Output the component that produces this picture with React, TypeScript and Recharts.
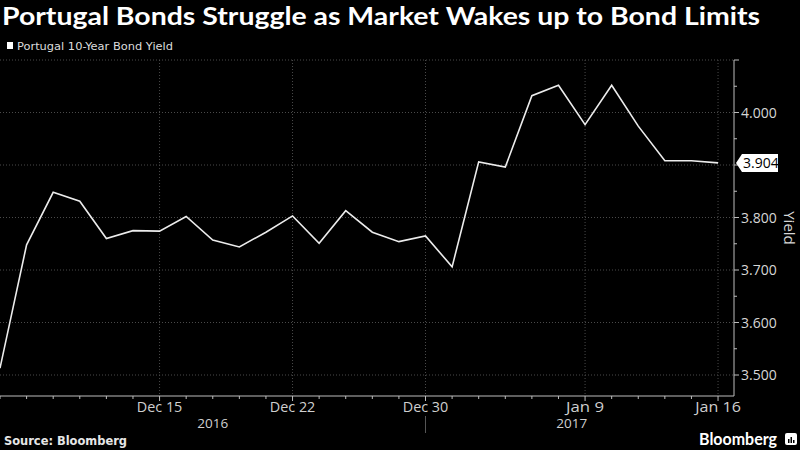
import { CartesianGrid, Line, LineChart, XAxis, YAxis } from 'recharts'

// business days, Dec 7 2016 .. Jan 16 2017
const dates = ['Dec 7', 'Dec 8', 'Dec 9', 'Dec 12', 'Dec 13', 'Dec 14', 'Dec 15', 'Dec 16', 'Dec 19', 'Dec 20', 'Dec 21', 'Dec 22', 'Dec 23', 'Dec 27', 'Dec 28', 'Dec 29', 'Dec 30', 'Jan 2', 'Jan 3', 'Jan 4', 'Jan 5', 'Jan 6', 'Jan 9', 'Jan 10', 'Jan 11', 'Jan 12', 'Jan 13', 'Jan 16']
const yields = [3.513, 3.748, 3.848, 3.831, 3.76, 3.775, 3.774, 3.802, 3.757, 3.744, 3.772, 3.803, 3.751, 3.813, 3.772, 3.754, 3.765, 3.706, 3.906, 3.896, 4.032, 4.052, 3.977, 4.052, 3.974, 3.908, 3.908, 3.904]
const dateLabels = ['Dec 15', 'Dec 22', 'Dec 30', 'Jan 9', 'Jan 16']
const years = ['2016', '2017']
const yearBounds = ['Dec 7', 'Dec 30', 'Jan 16']
const yMajor = [3.5, 3.6, 3.7, 3.8, 3.9, 4.0, 4.1]
const yMinor = [3.55, 3.65, 3.75, 3.85, 3.95, 4.05]
const yLabels = [3.5, 3.6, 3.7, 3.8, 4.0]

const data = dates.map((date, i) => ({ i, date, value: yields[i] }))
const last = yields[yields.length - 1]
const yearCenters = years.map((_, k) => (dates.indexOf(yearBounds[k]) + dates.indexOf(yearBounds[k + 1])) / 2)
const xDomain = [0, dates.length - 0.4]

const headFont = "Lato, 'Open Sans', sans-serif"
const textFont = "'DejaVu Sans', Verdana, sans-serif"
const axisFont = "'Open Sans', 'Noto Sans', sans-serif"
const axisColor = '#bdbdbd'

function XTick({ x, y, payload }: any) {
  const d = dates[payload.value]
  const labelled = dateLabels.includes(d)
  return (
    <g>
      <line x1={x} x2={x} y1={y} y2={y + (labelled ? 5 : 3)} stroke={axisColor} />
      {labelled ? <text x={x} y={y + 16} textAnchor="middle" fill="#cfcfcf" fontSize={14} fontFamily={axisFont} textLength={d.length * 7.6} lengthAdjust="spacingAndGlyphs">{d}</text> : null}
      {d === yearBounds[1] ? <line x1={x} x2={x} y1={y + 20} y2={y + 37} stroke="#555" /> : null}
    </g>
  )
}

function YearTick({ x, y, payload }: any) {
  const k = yearCenters.indexOf(payload.value)
  return <text x={x} y={y + 16} textAnchor="middle" fill="#cfcfcf" fontSize={13.5} fontFamily={axisFont} textLength={31} lengthAdjust="spacingAndGlyphs">{years[k]}</text>
}

function YTick({ x, y, payload }: any) {
  const v = payload.value
  if (v === last) {
    return (
      <g>
        <polygon points={`${x + 2},${y} ${x + 8},${y - 9} ${x + 44},${y - 9} ${x + 44},${y + 9} ${x + 8},${y + 9}`} fill="#fff" />
        <text x={x + 9} y={y} dy="0.36em" fill="#000" fontSize={14} fontFamily={axisFont}>{v.toFixed(3)}</text>
      </g>
    )
  }
  const major = yMajor.some((m) => Math.abs(m - v) < 1e-6)
  const labelled = yLabels.some((m) => Math.abs(m - v) < 1e-6)
  return (
    <g>
      <line x1={x} x2={x + (major ? 5 : 3)} y1={y} y2={y} stroke={axisColor} />
      {labelled ? <text x={x + 7} y={y} dy="0.36em" fill="#d6d6d6" fontSize={14} fontFamily={axisFont}>{v.toFixed(3)}</text> : null}
    </g>
  )
}

export default function App() {
  return (
    <div style={{ position: 'relative', width: 800, height: 450, background: '#000', overflow: 'hidden' }}>
      <style>{'body{margin:0;background:#000}'}</style>
      <LineChart width={800} height={450} data={data} margin={{ top: 60, right: 0, bottom: 20, left: 0 }}>
        <CartesianGrid stroke="#4a4a4a" strokeDasharray="1 2" horizontalValues={yMajor} verticalValues={dateLabels.map((d) => dates.indexOf(d))} />
        <XAxis dataKey="i" type="number" domain={xDomain} allowDataOverflow ticks={dates.map((_, i) => i)} interval={0} tickSize={0} tickMargin={0} tickLine={false} axisLine={{ stroke: axisColor }} height={16} tick={<XTick />} />
        <XAxis xAxisId="yr" dataKey="i" type="number" domain={xDomain} allowDataOverflow ticks={yearCenters} interval={0} tickSize={0} tickMargin={0} tickLine={false} axisLine={false} height={18} tick={<YearTick />} />
        <YAxis orientation="right" type="number" domain={[3.46, 4.1]} allowDataOverflow width={66} ticks={[...yMajor, ...yMinor, last].sort((a, b) => a - b)} interval={0} tickSize={0} tickMargin={0} tickLine={false} axisLine={{ stroke: axisColor }} tick={<YTick />} />
        <Line dataKey="value" type="linear" stroke="#ececec" strokeWidth={1.6} dot={false} isAnimationActive={false} />
      </LineChart>
      <svg width={800} height={450} style={{ position: 'absolute', left: 0, top: 0, pointerEvents: 'none' }}>
        <text x={2} y={25} fill="#fff" fontFamily={headFont} fontWeight={700} fontSize={25} textLength={758} lengthAdjust="spacingAndGlyphs">
          Portugal Bonds Struggle as Market Wakes up to Bond Limits
        </text>
        <rect x={7} y={42} width={6} height={7} fill="#fff" />
        <text x={17} y={50} fill="#ddd" fontFamily={textFont} fontSize={11} textLength={156} lengthAdjust="spacingAndGlyphs">
          Portugal 10-Year Bond Yield
        </text>
        <text x={790} y={228} transform="rotate(90 790 228)" textAnchor="middle" dominantBaseline="central" fill="#d6d6d6" fontFamily={axisFont} fontSize={15}>
          Yield
        </text>
        <text x={4} y={445} fill="#e6e6e6" fontFamily={textFont} fontWeight={700} fontSize={12} textLength={123} lengthAdjust="spacingAndGlyphs">
          Source: Bloomberg
        </text>
        <text x={699} y={445} fill="#fff" fontFamily={headFont} fontWeight={700} fontSize={17} textLength={78} lengthAdjust="spacingAndGlyphs">
          Bloomberg
        </text>
        <rect x={785} y={433} width={12} height={12} rx={2} fill="#fff" />
        <rect x={788} y={439} width={1.5} height={4} fill="#000" />
        <rect x={790.5} y={437} width={1.5} height={6} fill="#000" />
        <rect x={793} y={440} width={1.5} height={3} fill="#000" />
      </svg>
    </div>
  )
}
